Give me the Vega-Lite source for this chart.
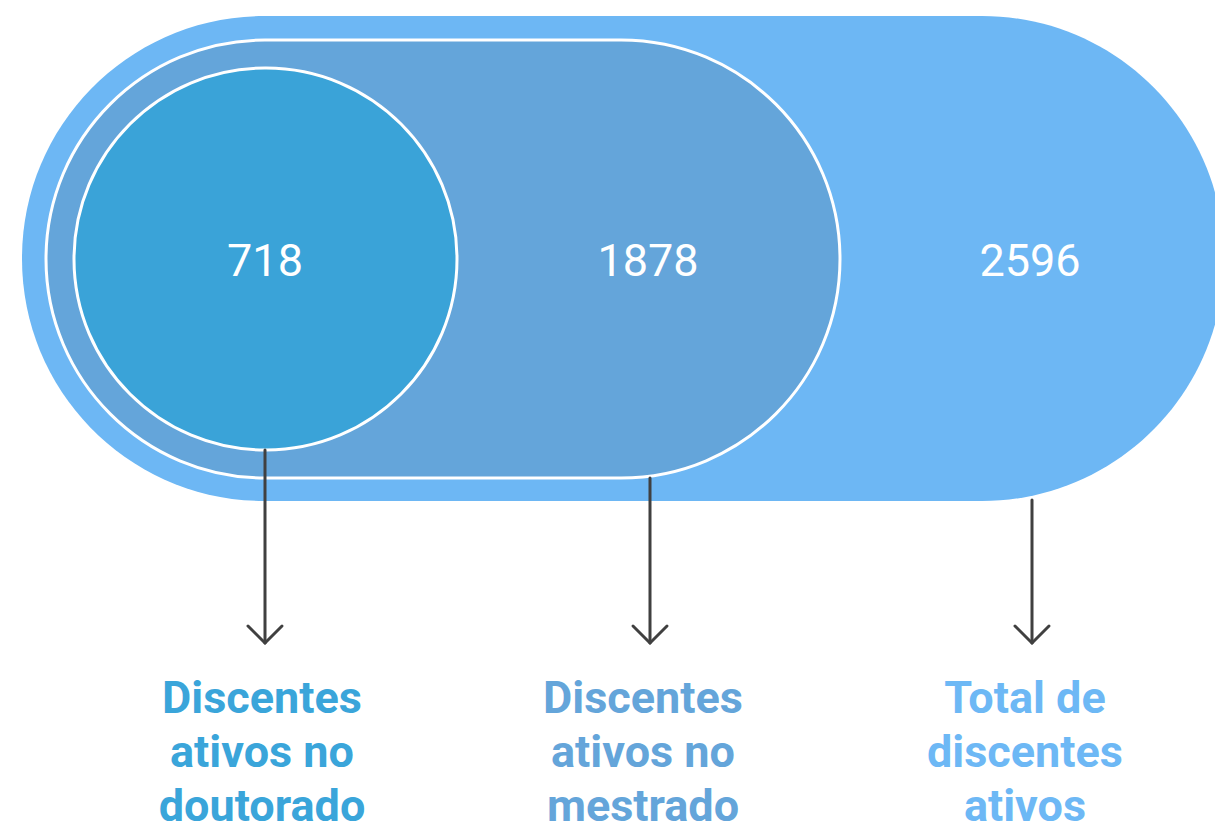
{
  "$schema": "https://vega.github.io/schema/vega-lite/v6.json",
  "width": 1215,
  "height": 825,
  "autosize": {"type": "none"},
  "padding": 0,
  "background": "#ffffff",
  "config": {"view": {"stroke": null}},
  "encoding": {
    "x": {"field": "x", "type": "quantitative", "scale": {"domain": [0, 1215], "nice": false, "zero": false}, "axis": null},
    "y": {"field": "y", "type": "quantitative", "scale": {"domain": [0, 825], "nice": false, "zero": false, "reverse": true}, "axis": null}
  },
  "layer": [
    {
      "data": {"values": [{"grupo": "Total", "x": 22, "x2": 1224, "y": 16, "y2": 501}]},
      "mark": {"type": "rect", "color": "#6db7f4", "cornerRadius": 242},
      "encoding": {"x2": {"field": "x2"}, "y2": {"field": "y2"}}
    },
    {
      "data": {"values": [{"grupo": "Mestrado", "x": 46, "x2": 840, "y": 40, "y2": 478}]},
      "mark": {"type": "rect", "color": "#64a5da", "stroke": "#ffffff", "strokeWidth": 3, "cornerRadius": 219},
      "encoding": {"x2": {"field": "x2"}, "y2": {"field": "y2"}}
    },
    {
      "data": {"values": [{"grupo": "Doutorado", "x": 74, "x2": 457, "y": 68, "y2": 450}]},
      "mark": {"type": "rect", "color": "#3aa3d8", "stroke": "#ffffff", "strokeWidth": 3, "cornerRadius": 191},
      "encoding": {"x2": {"field": "x2"}, "y2": {"field": "y2"}}
    },
    {
      "data": {"values": [
        {"grupo": "Doutorado", "valor": 718, "x": 265, "y": 276},
        {"grupo": "Mestrado", "valor": 1878, "x": 648, "y": 276},
        {"grupo": "Total", "valor": 2596, "x": 1030, "y": 276}
      ]},
      "mark": {"type": "text", "font": "Roboto", "fontSize": 45, "fontWeight": 400, "color": "#ffffff", "align": "center", "baseline": "alphabetic"},
      "encoding": {"text": {"field": "valor", "type": "quantitative"}}
    },
    {
      "data": {"values": [
        {"x": 265, "y": 450, "x2": 265, "y2": 642},
        {"x": 248, "y": 626, "x2": 265, "y2": 643},
        {"x": 282, "y": 626, "x2": 265, "y2": 643},
        {"x": 650, "y": 478, "x2": 650, "y2": 642},
        {"x": 633, "y": 626, "x2": 650, "y2": 643},
        {"x": 667, "y": 626, "x2": 650, "y2": 643},
        {"x": 1032, "y": 500, "x2": 1032, "y2": 642},
        {"x": 1015, "y": 626, "x2": 1032, "y2": 643},
        {"x": 1049, "y": 626, "x2": 1032, "y2": 643}
      ]},
      "mark": {"type": "rule", "color": "#404040", "strokeWidth": 3, "strokeCap": "round"},
      "encoding": {"x2": {"field": "x2"}, "y2": {"field": "y2"}}
    },
    {
      "data": {"values": [
        {"rotulo": "Discentes|ativos no|doutorado", "cor": "Doutorado", "x": 262, "y": 713},
        {"rotulo": "Discentes|ativos no|mestrado", "cor": "Mestrado", "x": 643, "y": 713},
        {"rotulo": "Total de|discentes|ativos", "cor": "Total", "x": 1025, "y": 713}
      ]},
      "mark": {"type": "text", "font": "Roboto", "fontSize": 45, "fontWeight": "bold", "align": "center", "baseline": "alphabetic", "lineBreak": "|", "lineHeight": 54},
      "encoding": {
        "text": {"field": "rotulo", "type": "nominal"},
        "color": {"field": "cor", "type": "nominal", "scale": {"domain": ["Doutorado", "Mestrado", "Total"], "range": ["#3aa5da", "#64a5da", "#6db8f5"]}, "legend": null}
      }
    }
  ]
}
